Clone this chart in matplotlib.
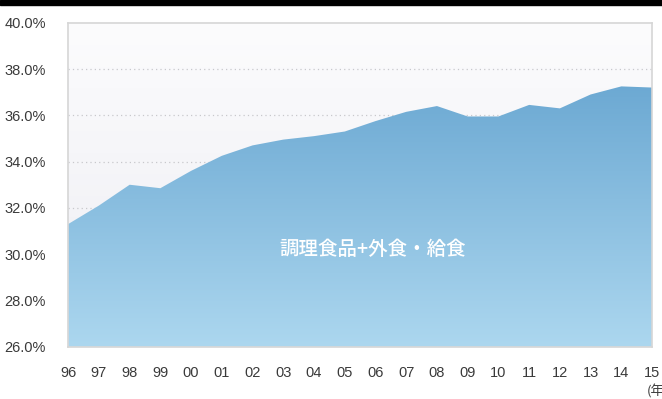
import numpy as np
import matplotlib
matplotlib.use("Agg")
import matplotlib.pyplot as plt
from matplotlib.colors import LinearSegmentedColormap
from matplotlib.patches import Rectangle

# 調理食品+外食・給食 の割合 (1996-2015)
years = ['96', '97', '98', '99', '00', '01', '02', '03', '04', '05',
         '06', '07', '08', '09', '10', '11', '12', '13', '14', '15']
share = [31.3, 32.1, 33.0, 32.85, 33.6, 34.25, 34.7, 34.95, 35.1, 35.3,
         35.75, 36.15, 36.4, 35.95, 35.95, 36.45, 36.3, 36.9, 37.25, 37.2]
y_ticks = [26, 28, 30, 32, 34, 36, 38, 40]
area_label = '調理食品+外食・給食'

plt.rcParams['font.family'] = ['Liberation Sans', 'DejaVu Sans']

fig = plt.figure(figsize=(6.62, 3.99), dpi=100)
fig.patch.set_facecolor('white')
# black band across the top
fig.add_artist(Rectangle((0, 0.987), 1, 0.013, transform=fig.transFigure,
                         color='black', zorder=0))

ax = fig.add_axes([0.103, 0.131, 0.882, 0.812])
x = np.arange(len(years))
ax.set_xlim(0, len(years) - 1)
ax.set_ylim(26, 40)

# pale background gradient
bg = LinearSegmentedColormap.from_list('bg', ['#ededf3', '#fcfcfd'])
ax.imshow(np.linspace(0, 1, 256).reshape(-1, 1), cmap=bg, aspect='auto',
          extent=[0, len(years) - 1, 26, 40], origin='lower', zorder=0)

# dotted grid
for t in y_ticks[1:-1]:
    ax.axhline(t, color='#c8c8cc', lw=0.9, ls=(0, (1, 2.5)), zorder=1)

# gradient-filled area
poly = ax.fill_between(x, 26, share, color='none', lw=0)
fill = LinearSegmentedColormap.from_list('fill', ['#acd7ef', '#5d9ecc'])
img = ax.imshow(np.linspace(0, 1, 256).reshape(-1, 1), cmap=fill, aspect='auto',
                extent=[0, len(years) - 1, 26, 40], origin='lower', zorder=2)
img.set_clip_path(poly.get_paths()[0], transform=ax.transData)

ax.text(9.9, 30.2, area_label, color='white', fontsize=14, ha='center',
        va='center', family=['Noto Sans CJK JP'], fontweight='medium', zorder=3)

ax.set_xticks(x)
ax.set_xticklabels(years)
ax.set_yticks(y_ticks)
ax.set_yticklabels([f'{t:.1f}%' for t in y_ticks])
ax.tick_params(axis='x', direction='in', length=3, color='white', width=1,
               pad=14, labelsize=10.5, labelcolor='#3a3a3a')
ax.tick_params(axis='y', length=0, pad=16, labelsize=10.5, labelcolor='#3a3a3a')
for side in ['top', 'right', 'left', 'bottom']:
    ax.spines[side].set_color('#d6d6d6')
    ax.spines[side].set_linewidth(1.2)
ax.spines['bottom'].set_zorder(4)

fig.text(0.977, 0.02, '(年', fontsize=9.5, color='#3a3a3a', ha='left',
         va='center', family=['Noto Sans CJK JP'])

fig.savefig('out.png', dpi=100)
